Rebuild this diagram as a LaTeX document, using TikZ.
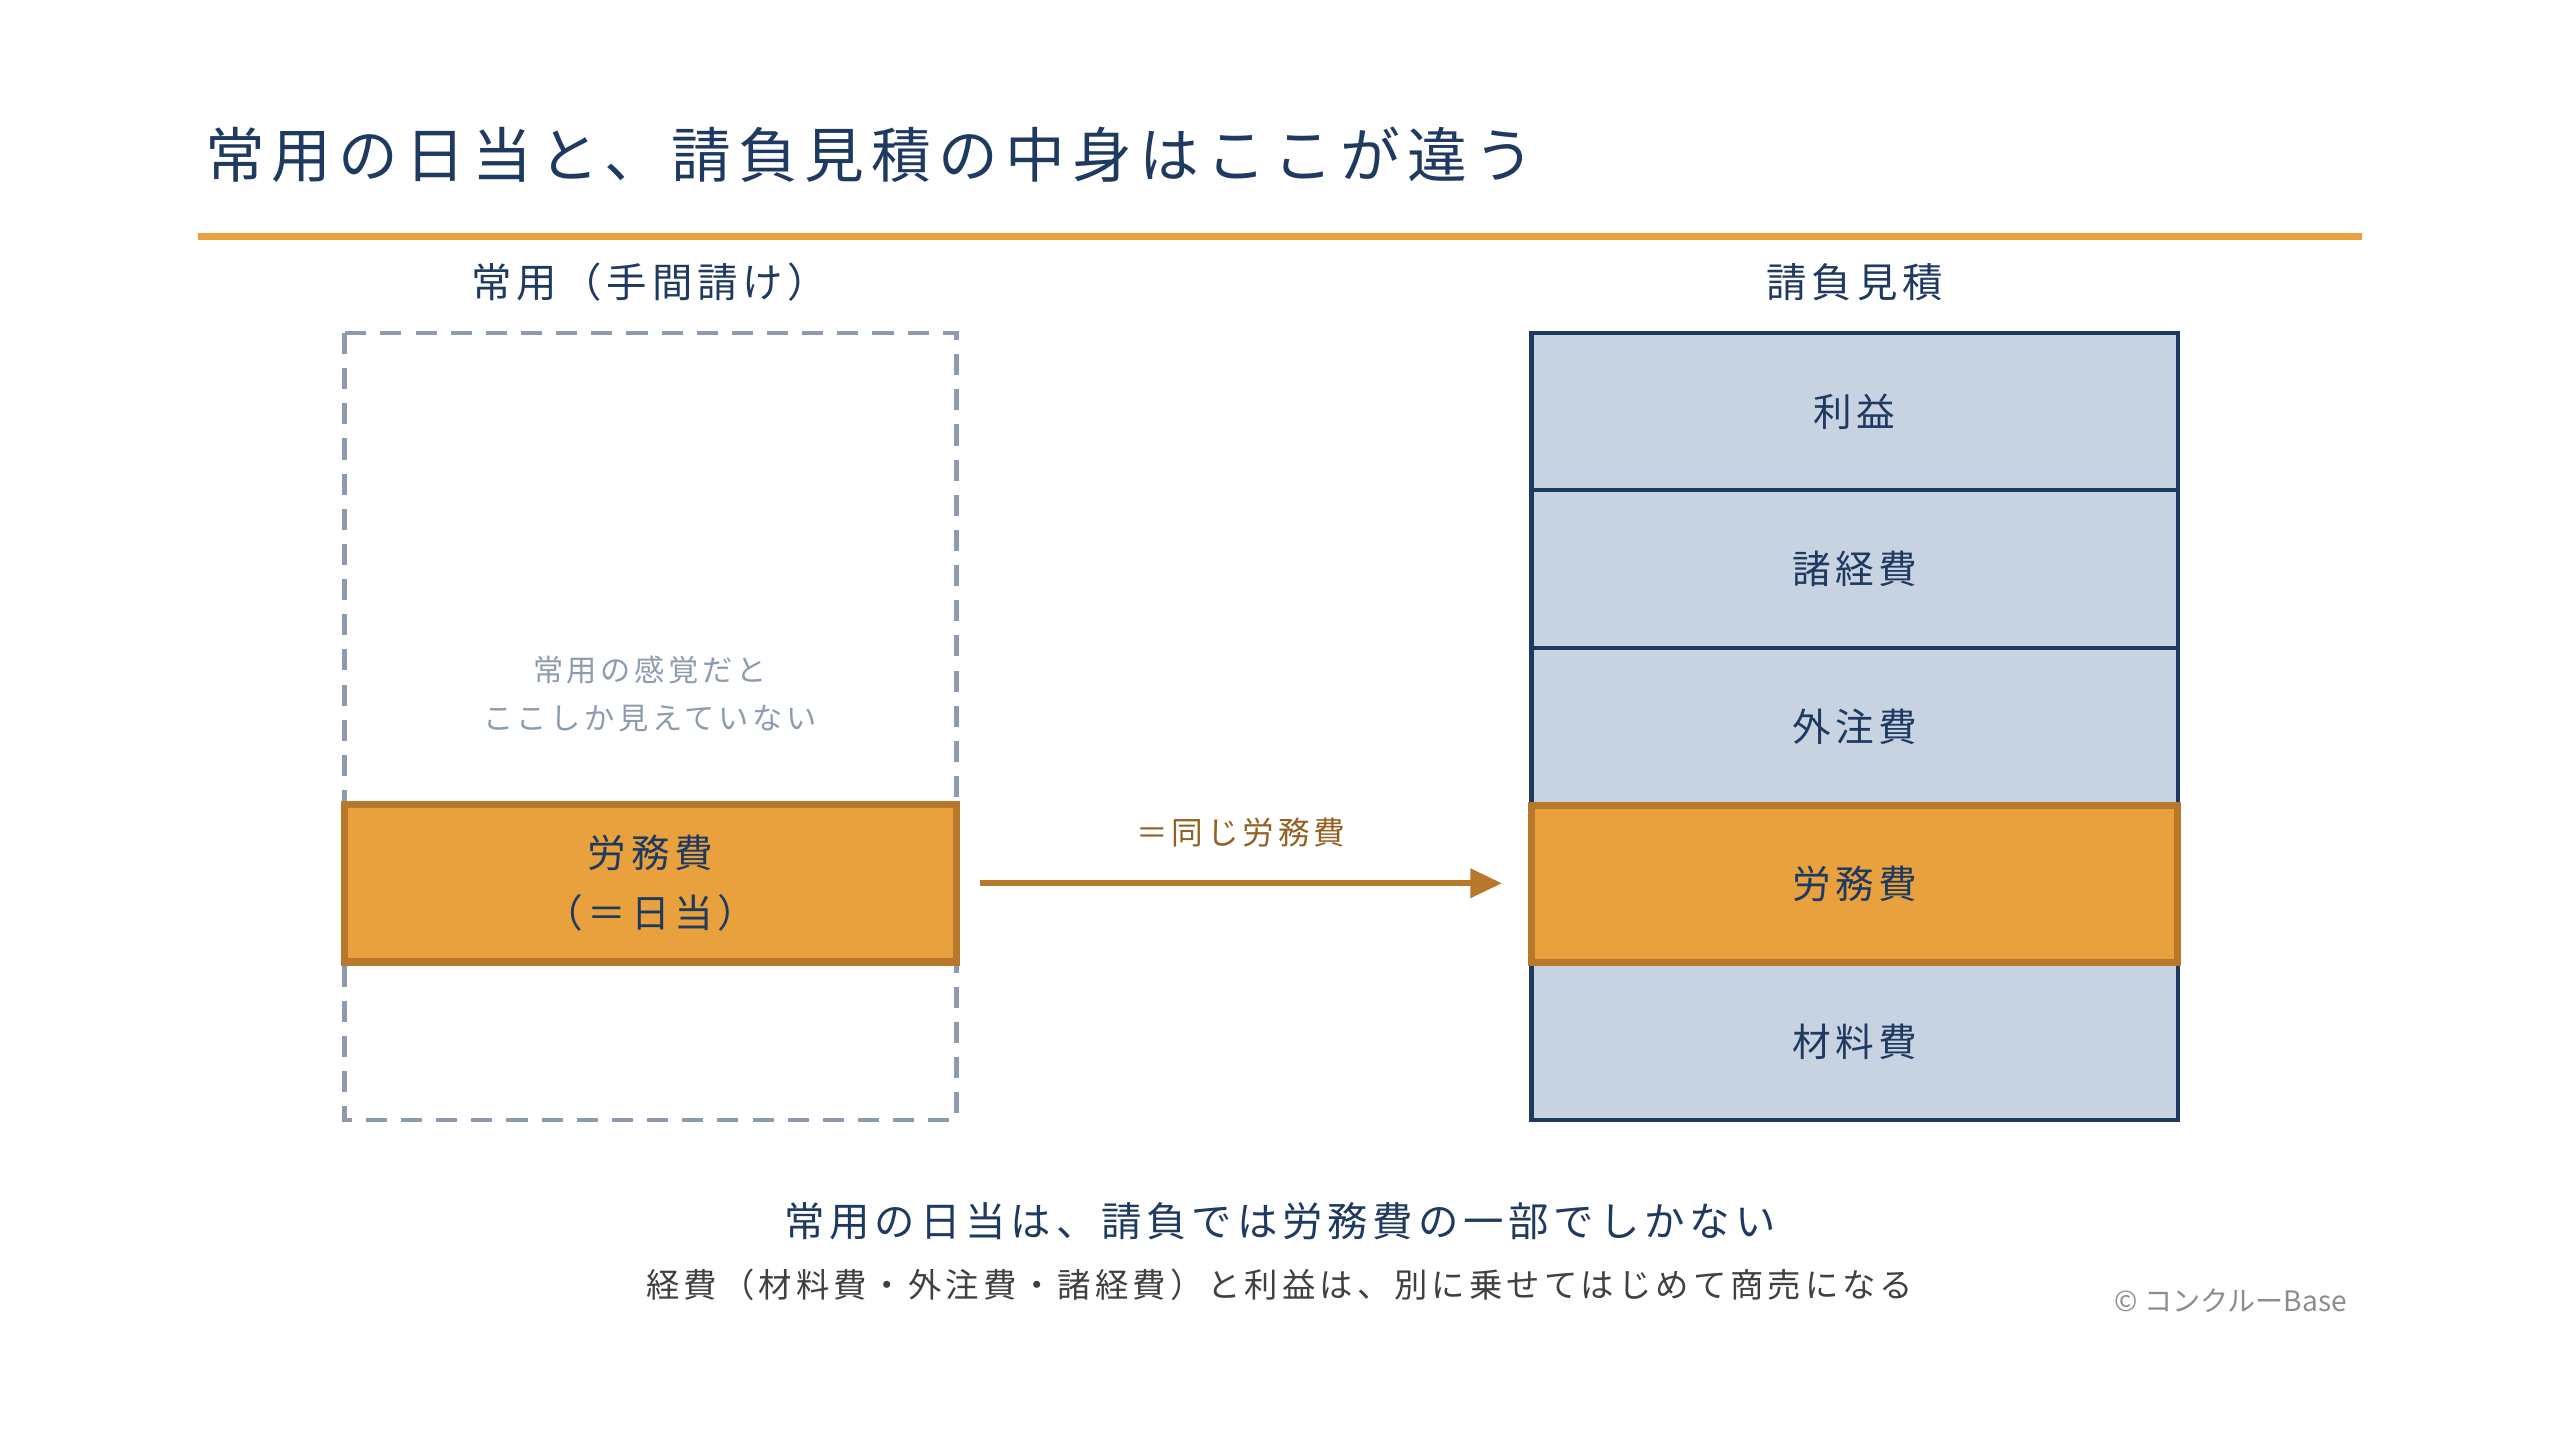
\documentclass[tikz,border=0pt]{standalone}
\usepackage{fontspec}
\setmainfont{Noto Sans CJK JP}[LetterSpace=12]
\newfontfamily\plainfont{Noto Sans CJK JP}
\usetikzlibrary{positioning, arrows.meta}
\definecolor{navy}{HTML}{1F3A60}
\definecolor{gold}{HTML}{E8A13D}
\definecolor{golddark}{HTML}{B8782C}
\definecolor{paleblue}{HTML}{C8D3E1}
\definecolor{greyline}{HTML}{8C9BB0}
\begin{document}
\begin{tikzpicture}[
    x=0.016327cm, y=-0.016327cm,
    layer/.style={draw=navy, line width=1.2pt, fill=paleblue, text=navy, minimum width=6.465cm, minimum height=1.575cm, outer sep=0pt, inner sep=0pt, font=\fontsize{11}{13}\selectfont},
    labour/.style={layer, fill=gold, draw=golddark, line width=2pt},
    head/.style={text=navy, font=\fontsize{11.5}{13}\selectfont}
]
\useasboundingbox (0,0) rectangle (1568,882);
% title
\node[anchor=west, text=navy, font=\fontsize{17}{20}\selectfont] (title) at (118,95) {常用の日当と、請負見積の中身はここが違う};
\draw[gold, line width=2pt] (121,145) -- (1447,145);

% left: day rate
\node[head] (lhead) at (398,173) {常用（手間請け）};
\draw[greyline, dashed, line width=1.3pt, dash pattern=on 6pt off 4pt] (211,204) rectangle (586,686);
\node[align=center, text=greyline, font=\fontsize{8.6}{13.5}\selectfont] (hint) at (398,425) {常用の感覚だと\\ここしか見えていない};
\node[labour, minimum width=6.12cm, align=center, font=\fontsize{11}{17}\selectfont] (day) at (398.5,541) {労務費\\（＝日当）};

% right: contract estimate
\node[head] (rhead) at (1136,173) {請負見積};
\node[layer] (profit) at (1136,252) {利益};
\node[layer, below=0pt of profit] (misc) {諸経費};
\node[layer, below=0pt of misc] (sub) {外注費};
\node[layer, below=0pt of sub] (mat0) {};
\node[layer, below=0pt of mat0] (mat) {材料費};
\node[labour] (lab) at (mat0) {労務費};

\draw[golddark, line width=1.8pt, -{Triangle[length=9pt, width=8pt]}] (600,541) -- node[above=6pt, text=golddark!80!black, font=\fontsize{9}{11}\selectfont] {＝同じ労務費} (920,541);

% bottom notes
\node[text=navy, font=\fontsize{11.5}{13}\selectfont] (note1) at (784,748) {常用の日当は、請負では労務費の一部でしかない};
\node[text=black!75, font=\fontsize{9.5}{12}\selectfont] (note2) at (784,787) {経費（材料費・外注費・諸経費）と利益は、別に乗せてはじめて商売になる};
\node[anchor=east, text=black!45, font=\plainfont\fontsize{8}{10}\selectfont] (copy) at (1445,797) {© コンクルーBase};
\end{tikzpicture}
\end{document}
